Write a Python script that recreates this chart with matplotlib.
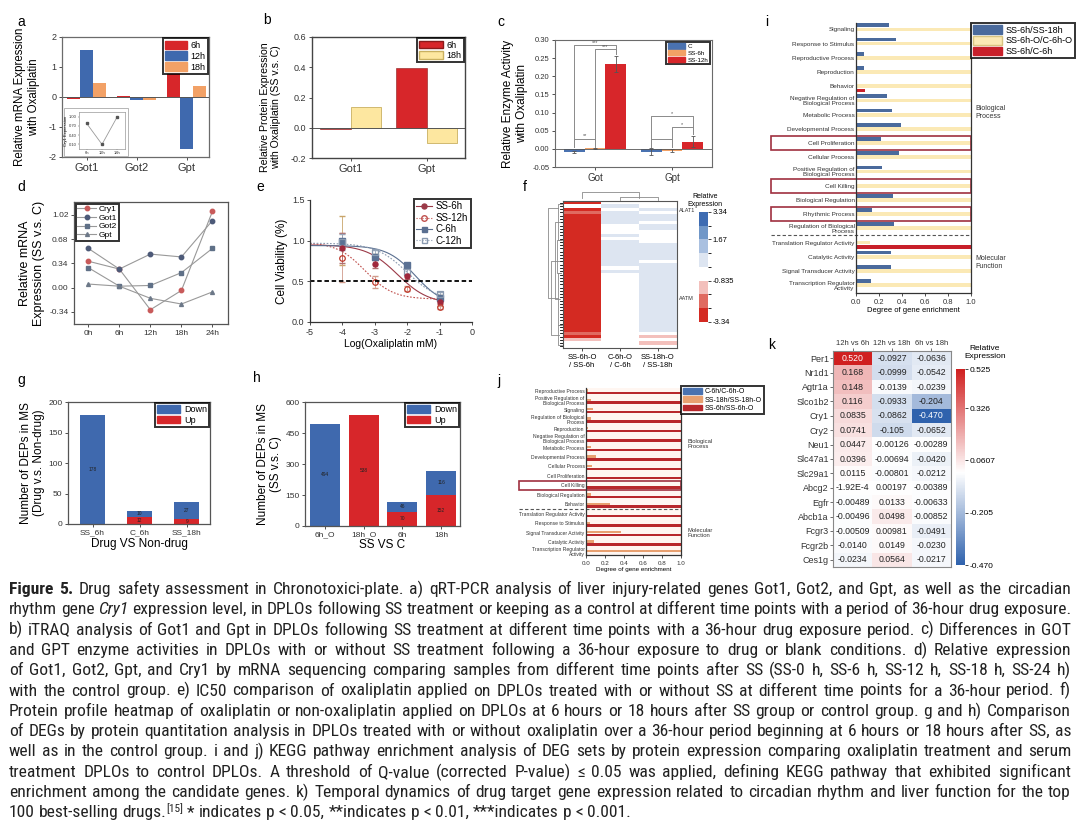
import numpy as np
import matplotlib
matplotlib.use('Agg')
import matplotlib.pyplot as plt
from matplotlib import font_manager
from matplotlib.colors import LinearSegmentedColormap, ListedColormap, BoundaryNorm, Normalize
from matplotlib.patches import Rectangle, Patch
from matplotlib.lines import Line2D
from matplotlib.transforms import blended_transform_factory

W, H = 1080, 824


def has_font(name):
    try:
        font_manager.findfont(font_manager.FontProperties(family=name), fallback_to_default=False)
        return True
    except Exception:
        return False


BASE = 'Liberation Sans' if has_font('Liberation Sans') else 'DejaVu Sans'
NARROW = next((f for f in ['Liberation Sans Narrow', 'Roboto Condensed', 'Open Sans Condensed', 'Lato', 'Roboto']
               if has_font(f)), BASE)
plt.rcParams['font.family'] = [BASE, 'DejaVu Sans']
plt.rcParams['axes.unicode_minus'] = False

# ---------------- DATA ----------------
# a
a_genes = ['Got1', 'Got2', 'Gpt']
a_6h = [-0.07, 0.02, 0.80]
a_12h = [1.55, -0.10, -1.72]
a_18h = [0.47, -0.10, 0.35]
a_inset_time = ['6h', '12h', '18h']
a_inset_cry1 = [0.78, 0.10, 1.00]
# b
b_genes = ['Got1', 'Gpt']
b_6h = [-0.005, 0.395]
b_18h = [0.14, -0.10]
# c
c_groups = ['Got', 'Gpt']
c_series = ['C', 'SS-6h', 'SS-12h']
c_C = [-0.008, -0.008]
c_C_err = [0.003, 0.010]
c_SS6 = [0.001, -0.005]
c_SS6_err = [0.001, 0.004]
c_SS12 = [0.233, 0.020]
c_SS12_err = [0.022, 0.015]
c_sig = [(0, 0, 2, 0.286, '***'), (0, 1, 2, 0.274, '***'), (0, 0, 1, 0.028, '**'),
         (1, 0, 2, 0.090, '*'), (1, 1, 2, 0.060, '*'), (1, 0, 1, 0.028, '')]
# d
d_times = ['0h', '6h', '12h', '18h', '24h']
d_cry1 = [0.37, 0.26, -0.31, -0.04, 1.07]
d_got1 = [0.55, 0.26, 0.47, 0.43, 0.94]
d_got2 = [0.28, 0.02, 0.03, 0.21, 0.55]
d_gpt = [0.05, 0.02, -0.15, -0.23, -0.06]
# e
e_logc = [-4, -3, -2, -1]
e_ss6 = [0.91, 0.71, 0.56, 0.25]
e_ss6_err = [0.19, 0.05, 0.03, 0.03]
e_ss12 = [0.79, 0.49, 0.41, 0.18]
e_ss12_err = [0.30, 0.07, 0.03, 0.02]
e_c6 = [1.00, 0.80, 0.70, 0.30]
e_c6_err = [0.30, 0.03, 0.03, 0.03]
e_c12 = [0.98, 0.86, 0.62, 0.35]
e_c12_err = [0.10, 0.03, 0.03, 0.02]
# 4PL fit parameters (top, bottom, logIC50, hill)
e_fit_ss6 = (0.95, 0.22, -2.3, 0.9)
e_fit_ss12 = (0.98, 0.28, -3.3, 1.0)
e_fit_c6 = (0.94, 0.20, -1.75, 1.0)
e_fit_c12 = (0.97, 0.25, -2.0, 0.9)
# f
f_cols = ['SS-6h-O\n/ SS-6h', 'C-6h-O\n/ C-6h', 'SS-18h-O\n/ SS-18h']
f_col1 = [-2.9, -0.3, -3.0, -2.2, -3.2, -3.3, -3.3, -3.3, -3.3, -3.3,
          -3.3, -3.3, -3.3, -3.3, -3.3, -3.3, -3.3, -3.3, -3.3, -3.3,
          -3.3, -3.3, -3.3, -3.3, -3.3, -3.3, -3.3, -3.3, -3.3, -3.3,
          -3.3, -3.3, -3.3, -3.3, -3.3, -3.3, -3.3, -3.3, -3.3, -3.3,
          -2.0, -3.0, -1.2, -0.5, -0.3]
f_col2 = [-0.3, 0.4, -0.3, 0.4, 0.4, 0.4, 0.4, -0.3, -0.3, -0.3,
          0.4, -0.3, 0.4, 0.4, 0.4, 0.4, 0.4, 0.4, 0.4, 0.4,
          -0.3, 0.4, -0.3, -0.3, -0.3, -0.3, -0.3, -0.3, -0.3, -0.3,
          -0.3, -0.3, -0.3, -0.3, -0.3, -0.3, -0.3, -0.3, -0.3, -0.3,
          -0.3, -0.3, -0.3, -0.3, -0.3]
f_col3 = [-0.3, -0.3, 0.4, -0.3, 0.4, 0.4, -0.3, 0.4, 0.4, -0.3,
          -0.3, -0.3, -0.3, 0.4, 0.4, 0.4, 0.4, 0.4, -0.3, 0.4,
          0.4, 0.4, 0.4, 0.4, 0.4, 0.4, 0.4, 0.4, 0.4, 0.4,
          0.4, 0.4, 0.4, 0.4, 0.4, 0.4, 0.4, 0.4, 0.4, 0.4,
          -0.3, -1.2, -0.3, -1.0, -0.3]
f_row_labels = [(2.8, 'ALAT1'), (29.7, 'AATM')]
f_row_dendro = [(1, 12, 0.30), (12, 22, 0.40), (22, 38, 0.35), (6.5, 30, 0.55),
                (38, 44, 0.30), (41, 18.25, 0.80), (2, 29.6, 1.0)]
f_col_dendro = [(1, 2, 0.45), (0, 1.5, 1.0)]
f_cbar_ticks = [3.34, 1.67, -0.835, -3.34]
# g
g_groups = ['SS_6h', 'C_6h', 'SS_18h']
g_up = [0, 12, 9]
g_down = [178, 10, 27]
# h
h_groups = ['6h_O', '18h_O', '6h', '18h']
h_up = [0, 538, 70, 152]
h_down = [494, 0, 46, 116]
# i
i_cats = ['Signaling', 'Response to Stimulus', 'Reproductive Process', 'Reproduction', 'Behavior',
          'Negative Regulation of\nBiological Process', 'Metabolic Process', 'Developmental Process',
          'Cell Proliferation', 'Cellular Process', 'Positive Regulation of\nBiological Process',
          'Cell Killing', 'Biological Regulation', 'Rhythmic Process', 'Regulation of Biological\nProcess',
          'Translation Regulator Activity', 'Catalytic Activity', 'Signal Transducer Activity',
          'Transcription Regulator\nActivity']
i_blue = [0.29, 0.35, 0.07, 0.07, 0.0, 0.27, 0.31, 0.39, 0.22, 0.37, 0.23, 0.0, 0.32, 0.14, 0.33,
          0.0, 0.30, 0.30, 0.13]
i_yellow = [1.0, 1.0, 1.0, 1.0, 1.0, 1.0, 1.0, 1.0, 1.0, 1.0, 1.0, 1.0, 1.0, 1.0, 1.0,
            0.12, 1.0, 1.0, 1.0]
i_red = [0.0, 0.0, 0.0, 0.0, 0.08, 0.0, 0.0, 0.0, 0.0, 0.0, 0.0, 0.0, 0.0, 0.0, 0.0,
         1.0, 0.0, 0.0, 0.0]
i_boxed = ['Cell Proliferation', 'Cell Killing', 'Rhythmic Process']
i_series = ['SS-6h/SS-18h', 'SS-6h-O/C-6h-O', 'SS-6h/C-6h']
# j
j_cats = ['Reproductive Process', 'Positive Regulation of\nBiological Process', 'Signaling',
          'Regulation of Biological\nProcess', 'Reproduction', 'Negative Regulation of\nBiological Process',
          'Metabolic Process', 'Developmental Process', 'Cellular Process', 'Cell Proliferation',
          'Cell Killing', 'Biological Regulation', 'Behavior', 'Translation Regulator Activity',
          'Response to Stimulus', 'Signal Transducer Activity', 'Catalytic Activity',
          'Transcription Regulator\nActivity']
j_blue = [0.0] * 18
j_orange = [0.02, 0.05, 0.07, 0.05, 0.02, 0.01, 0.05, 0.11, 0.06, 0.0, 0.0, 0.05, 0.25,
            0.0, 0.04, 0.37, 0.08, 1.0]
j_red = [1.0, 1.0, 1.0, 1.0, 1.0, 1.0, 1.0, 1.0, 1.0, 1.0, 1.0, 1.0, 1.0,
         1.0, 1.0, 1.0, 1.0, 0.0]
j_series = ['C-6h/C-6h-O', 'SS-18h/SS-18h-O', 'SS-6h/SS-6h-O']
# k
k_cols = ['12h vs 6h', '12h vs 18h', '6h vs 18h']
k_genes = ['Per1', 'Nr1d1', 'Agtr1a', 'Slco1b2', 'Cry1', 'Cry2', 'Neu1', 'Slc47a1', 'Slc29a1',
           'Abcg2', 'Egfr', 'Abcb1a', 'Fcgr3', 'Fcgr2b', 'Ces1g']
k_12v6 = [0.520, 0.168, 0.148, 0.116, 0.0835, 0.0741, 0.0447, 0.0396, 0.0115, -1.92e-4,
          -0.00489, -0.00496, -0.00509, -0.0140, -0.0234]
k_12v18 = [-0.0927, -0.0999, -0.0139, -0.0933, -0.0862, -0.105, -0.00126, -0.00694, -0.00801,
           0.00197, 0.0133, 0.0498, 0.00981, 0.0149, 0.0564]
k_6v18 = [-0.0636, -0.0542, -0.0239, -0.204, -0.470, -0.0652, -0.00289, -0.0420, -0.0212,
          -0.00389, -0.00633, -0.00852, -0.0491, -0.0230, -0.0217]
k_cbar_ticks = [0.525, 0.326, 0.0607, -0.205, -0.470]

# ---------------- STYLE ----------------
RED = '#d7262a'
BLUE = '#3f69ae'
ORANGE = '#f2a166'
YEL = '#fde7a0'
GRAYSP = '#6b6b6b'

fig = plt.figure(figsize=(W / 100, H / 100), dpi=100)
fig.patch.set_facecolor('white')


def ax_px(l, t, r, b, **kw):
    return fig.add_axes([l / W, 1 - b / H, (r - l) / W, (b - t) / H], **kw)


def letter(x, y, s, size=10):
    fig.text(x / W, 1 - y / H, s, fontsize=size, ha='left', va='center')


def style(ax, lw=0.9, color=GRAYSP, ls=6.5):
    for sp in ax.spines.values():
        sp.set_color(color)
        sp.set_linewidth(lw)
    ax.tick_params(colors='#333333', width=0.6, length=2.5, labelsize=ls, pad=1.5)


def box_legend(ax, handles, labels, fs=6.5, **kw):
    opts = dict(fontsize=fs, frameon=True, fancybox=False, edgecolor='black',
                borderpad=0.25, labelspacing=0.15, handletextpad=0.4, borderaxespad=0.15)
    opts.update(kw)
    leg = ax.legend(handles, labels, **opts)
    leg.get_frame().set_linewidth(1.4)
    return leg


# ---------------- a ----------------
letter(17, 22, 'a')
ax = ax_px(62, 37, 209, 157)
x = np.arange(len(a_genes))
w = 0.26
ax.bar(x - w, a_6h, w, color=RED)
ax.bar(x, a_12h, w, color=BLUE)
ax.bar(x + w, a_18h, w, color=ORANGE)
ax.axhline(0, color='#555555', lw=0.7)
ax.set_xlim(-0.5, 2.45)
ax.set_ylim(-2.0, 2.0)
ax.set_yticks([-2, -1, 0, 1, 2])
ax.set_xticks(x)
ax.set_xticklabels(a_genes)
style(ax)
ax.tick_params(axis='x', labelsize=8)
ax.set_ylabel('Relative mRNA Expression\nwith Oxaliplatin', fontsize=8.3, labelpad=6)
box_legend(ax, [Patch(color=RED), Patch(color=BLUE), Patch(color=ORANGE)], ['6h', '12h', '18h'],
           fs=6.5, loc='upper right', handlelength=2.4, handleheight=1.1)
# inset frame + inset axes
fig.patches.append(Rectangle((64 / W, 1 - 156 / H), 64 / W, 48 / H, transform=fig.transFigure,
                             facecolor='white', edgecolor='#aaaaaa', lw=0.6, zorder=5))
axi = ax_px(79, 112, 125, 149)
axi.set_zorder(6)
axi.plot(np.arange(3), a_inset_cry1, color='#9a9a9a', lw=0.6, marker='s', ms=1.6,
         mfc='#555555', mec='#555555')
axi.set_xlim(-0.5, 2.5)
axi.set_ylim(-0.05, 1.15)
axi.set_yticks([0.10, 0.40, 0.70, 1.00])
axi.set_yticklabels(['0.10', '0.40', '0.70', '1.00'])
axi.set_xticks(np.arange(3))
axi.set_xticklabels(a_inset_time)
style(axi, lw=0.5, color='#999999', ls=3)
axi.tick_params(length=1, width=0.3, pad=0.5)
axi.set_ylabel('Cry1 Expression', fontsize=3, labelpad=1)

# ---------------- b ----------------
letter(263, 20, 'b')
ax = ax_px(312, 37, 465, 158)
x = np.arange(len(b_genes))
w = 0.40
ax.bar(x - w / 2, b_6h, w, color=RED, edgecolor='#8a1a1a', lw=0.4)
ax.bar(x + w / 2, b_18h, w, color=YEL, edgecolor='#c9b060', lw=0.6)
ax.axhline(0, color='#555555', lw=0.7)
ax.set_xlim(-0.51, 1.5)
ax.set_ylim(-0.2, 0.6)
ax.set_yticks([-0.2, 0.0, 0.2, 0.4, 0.6])
ax.set_yticklabels(['-0.2', '0.0', '0.2', '0.4', '0.6'])
ax.set_xticks(x)
ax.set_xticklabels(b_genes)
style(ax, lw=1.0, color='#444444')
ax.tick_params(axis='x', labelsize=8)
ax.set_ylabel('Relative Protein Expression\nwith Oxaliplatin (SS v.s. C)', fontsize=7.6, labelpad=3)
ax.yaxis.set_label_coords(-0.2, 0.42)
box_legend(ax, [Patch(facecolor=RED, edgecolor='#8a1a1a'), Patch(facecolor=YEL, edgecolor='#c9b060')],
           ['6h', '18h'], fs=6.5, loc='upper right', handlelength=2.6, handleheight=0.9)

# ---------------- c ----------------
letter(497, 22, 'c')
ax = ax_px(555, 40, 712, 167)
x = np.arange(len(c_groups))
w = 0.27
vals = [c_C, c_SS6, c_SS12]
errs = [c_C_err, c_SS6_err, c_SS12_err]
cols = ['#4a72b0', ORANGE, RED]
for k in range(3):
    ax.bar(x + (k - 1) * w, vals[k], w, color=cols[k], yerr=errs[k],
           error_kw=dict(ecolor='#555555', elinewidth=0.6, capsize=1.2, capthick=0.6))
ax.axhline(0, color='#555555', lw=0.6)
for g, i0, i1, yb, lab in c_sig:
    xa = x[g] + (i0 - 1) * w
    xb = x[g] + (i1 - 1) * w
    ya = max(vals[i0][g] + errs[i0][g], 0) + 0.004
    yb_end = max(vals[i1][g] + errs[i1][g], 0) + 0.006
    ax.plot([xa, xa, xb, xb], [ya, yb, yb, yb_end], color='#8a8a8a', lw=0.7)
    if lab:
        ax.text((xa + xb) / 2, yb + 0.001, lab, ha='center', va='bottom', fontsize=4, color='#555555')
ax.set_xlim(-0.52, 1.52)
ax.set_ylim(-0.05, 0.30)
ax.set_yticks([-0.05, 0.0, 0.05, 0.10, 0.15, 0.20, 0.25, 0.30])
ax.set_yticklabels(['-0.05', '0.00', '0.05', '0.10', '0.15', '0.20', '0.25', '0.30'])
ax.set_xticks(x)
ax.set_xticklabels(c_groups)
style(ax, lw=0.8)
ax.tick_params(axis='y', labelsize=5.5)
ax.tick_params(axis='x', labelsize=7)
ax.set_ylabel('Relative Enzyme Activity\nwith Oxaliplatin', fontsize=8.5, labelpad=3)
box_legend(ax, [Patch(color='#4a72b0'), Patch(color=ORANGE), Patch(color=RED)], c_series,
           fs=4.5, loc='upper right', handlelength=2.8, handleheight=0.9, borderaxespad=0.3)

# ---------------- d ----------------
letter(17, 187, 'd')
ax = ax_px(74, 202, 228, 324)
x = np.arange(len(d_times))
ax.plot(x, d_cry1, color='#999999', lw=0.8, marker='o', ms=3.2, mfc='#c85a5a', mec='#c85a5a', label='Cry1')
ax.plot(x, d_got1, color='#999999', lw=0.8, marker='o', ms=3.2, mfc='#4d5a78', mec='#4d5a78', label='Got1')
ax.plot(x, d_got2, color='#999999', lw=0.8, marker='s', ms=2.8, mfc='#5f7087', mec='#5f7087', label='Got2')
ax.plot(x, d_gpt, color='#999999', lw=0.8, marker='^', ms=2.8, mfc='#6c7888', mec='#6c7888', label='Gpt')
ax.set_xlim(-0.46, 4.5)
ax.set_ylim(-0.51, 1.2)
ax.set_yticks([-0.34, 0.0, 0.34, 0.68, 1.02])
ax.set_yticklabels(['-0.34', '0.00', '0.34', '0.68', '1.02'])
ax.set_xticks(x)
ax.set_xticklabels(d_times)
style(ax, lw=0.9, color='#555555', ls=6)
ax.set_ylabel('Relative mRNA\nExpression (SS v.s. C)', fontsize=9, labelpad=3)
leg = ax.legend(loc='upper left', fontsize=6, frameon=True, fancybox=False, edgecolor='black',
                borderpad=0.2, labelspacing=0.1, handletextpad=0.4, handlelength=2.2, borderaxespad=0.2)
leg.get_frame().set_linewidth(1.4)

# ---------------- e ----------------
letter(256, 187, 'e')
ax = ax_px(310, 200, 472, 322)


def four_pl(xx, p):
    top, bot, c, h = p
    return bot + (top - bot) / (1 + 10 ** ((xx - c) * h))


xs = np.linspace(-5, -1, 200)
ax.plot(xs, four_pl(xs, e_fit_ss6), color='#9b3a48', lw=0.8)
ax.plot(xs, four_pl(xs, e_fit_ss12), color='#c0504d', lw=0.8, ls=(0, (1.5, 1.5)))
ax.plot(xs, four_pl(xs, e_fit_c6), color='#5a6f90', lw=0.8)
ax.plot(xs, four_pl(xs, e_fit_c12), color='#8a9ab0', lw=0.8, ls=(0, (1.5, 1.5)))
ax.errorbar(e_logc, e_c6, yerr=e_c6_err, fmt='none', ecolor='#c9a56a', elinewidth=0.6, capsize=2)
ax.errorbar(e_logc, e_ss12, yerr=e_ss12_err, fmt='none', ecolor='#d09a8a', elinewidth=0.6, capsize=2)
ax.errorbar(e_logc, e_ss6, yerr=e_ss6_err, fmt='none', ecolor='#b07070', elinewidth=0.6, capsize=2)
ax.errorbar(e_logc, e_c12, yerr=e_c12_err, fmt='none', ecolor='#9aa8bb', elinewidth=0.6, capsize=2)
ax.plot(e_logc, e_c6, 's', ms=4, mfc='#5a7194', mec='#5a7194')
ax.plot(e_logc, e_c12, 's', ms=4, mfc='none', mec='#8a9ab0', mew=0.9)
ax.plot(e_logc, e_ss6, 'o', ms=3.6, mfc='#a0283c', mec='#a0283c')
ax.plot(e_logc, e_ss12, 'o', ms=4, mfc='none', mec='#c0392b', mew=0.9)
ax.axhline(0.5, color='black', lw=1.3, ls=(0, (2.5, 1.5)))
ax.set_xlim(-5, 0)
ax.set_ylim(0, 1.5)
ax.set_xticks([-5, -4, -3, -2, -1, 0])
ax.set_yticks([0.0, 0.5, 1.0, 1.5])
ax.set_yticklabels(['0.0', '0.5', '1.0', '1.5'])
ax.set_xticklabels(['-5', '-4', '-3', '-2', '-1', '0'])
for sp in ['top', 'right']:
    ax.spines[sp].set_visible(False)
style(ax, lw=0.9, color='#333333', ls=6.5)
ax.set_ylabel('Cell Viability (%)', fontsize=8.5, labelpad=3)
ax.set_xlabel('Log(Oxaliplatin mM)', fontsize=7.5, labelpad=2)
hs = [Line2D([], [], color='#9b3a48', marker='o', ms=3.6, lw=0.8),
      Line2D([], [], color='#c0504d', marker='o', ms=4, mfc='none', lw=0.8, ls=':'),
      Line2D([], [], color='#5a6f90', marker='s', ms=3.6, lw=0.8),
      Line2D([], [], color='#8a9ab0', marker='s', ms=3.6, mfc='none', lw=0.8, ls=':')]
box_legend(ax, hs, ['SS-6h', 'SS-12h', 'C-6h', 'C-12h'], fs=7, loc='upper right',
           handlelength=1.6, bbox_to_anchor=(1.0, 1.02))

# ---------------- f ----------------
letter(523, 187, 'f')
fmat = np.array([f_col1, f_col2, f_col3]).T
f_colors = ['#d42a22', '#e06a60', '#f3c0bc', '#ffffff', '#dde5f1', '#a9c0e0', '#7097c8', '#3e6cb2']
fcmap = ListedColormap(f_colors)
fnorm = BoundaryNorm(np.linspace(-3.34, 3.34, 9), fcmap.N)
axf = ax_px(563, 201, 677, 348)
axf.pcolormesh(np.arange(4), np.arange(len(f_col1) + 1), fmat, cmap=fcmap, norm=fnorm)
axf.set_xlim(0, 3)
axf.set_ylim(len(f_col1), 0)
axf.set_yticks([])
axf.set_xticks(np.arange(3) + 0.5)
axf.set_xticklabels(f_cols, fontsize=5.5)
axf.tick_params(axis='x', length=2, width=0.5, pad=2)
for sp in axf.spines.values():
    sp.set_color('#555555')
    sp.set_linewidth(0.8)
for r, s in f_row_labels:
    axf.text(3.04, r, s, fontsize=4, va='center', ha='left', color='#333333')
# row dendrogram
axd = ax_px(547, 201, 563, 348)
axd.set_ylim(len(f_col1), 0)
axd.set_xlim(1.05, 0)
axd.axis('off')
for rr in range(len(f_col1)):
    axd.plot([0, 0.18], [rr + 0.5, rr + 0.5], color='black', lw=0.6)
for ya, yb, hh in f_row_dendro:
    axd.plot([hh * 0.3, hh, hh, hh * 0.3], [ya, ya, yb, yb], color='#8a8a8a', lw=0.6)
# column dendrogram
axc = ax_px(563, 192, 677, 201)
axc.set_xlim(0, 3)
axc.set_ylim(0, 1.05)
axc.axis('off')
for xa, xb, hh in f_col_dendro:
    axc.plot([xa + 0.5, xa + 0.5, xb + 0.5, xb + 0.5], [hh * 0.35, hh, hh, hh * 0.35], color='#8a8a8a', lw=0.6)
caxf = ax_px(699, 212, 708, 322)
cb = fig.colorbar(plt.cm.ScalarMappable(norm=fnorm, cmap=fcmap), cax=caxf, ticks=f_cbar_ticks)
cb.ax.set_yticklabels(['3.34', '1.67', '-0.835', '-3.34'])
cb.ax.tick_params(labelsize=5.5, length=2, width=0.5, pad=1)
cb.outline.set_visible(False)
fig.text(705 / W, 1 - 200 / H, 'Relative\nExpression', fontsize=5, ha='center', va='center')

# ---------------- g ----------------
letter(17, 380, 'g')
ax = ax_px(68, 402, 210, 524)
x = np.arange(len(g_groups))
w = 0.53
ax.bar(x, g_up, w, color=RED)
ax.bar(x, g_down, w, bottom=g_up, color=BLUE)
for i in range(len(g_groups)):
    if g_up[i] > 0:
        ax.text(x[i], g_up[i] / 2, str(g_up[i]), ha='center', va='center', fontsize=3.5, color='#222222')
    if g_down[i] > 0:
        ax.text(x[i], g_up[i] + g_down[i] / 2, str(g_down[i]), ha='center', va='center', fontsize=3.5,
                color='#222222')
ax.set_xlim(-0.52, 2.49)
ax.set_ylim(0, 200)
ax.set_yticks([0, 50, 100, 150, 200])
ax.set_xticks(x)
ax.set_xticklabels(g_groups)
style(ax, lw=0.9, color='#555555', ls=6)
ax.set_ylabel('Number of DEPs in MS\n(Drug v.s. Non-drug)', fontsize=8.5, labelpad=2)
ax.set_xlabel('Drug VS Non-drug', fontsize=8.5, labelpad=1)
box_legend(ax, [Patch(color=BLUE), Patch(color=RED)], ['Down', 'Up'], fs=6.5, loc='upper right',
           handlelength=2.6, handleheight=0.9, borderaxespad=0.1)

# ---------------- h ----------------
letter(253, 378, 'h')
ax = ax_px(305, 402, 460, 526)
x = np.arange(len(h_groups))
w = 0.78
ax.bar(x, h_up, w, color=RED)
ax.bar(x, h_down, w, bottom=h_up, color=BLUE)
for i in range(len(h_groups)):
    if h_up[i] > 0:
        ax.text(x[i], h_up[i] / 2, str(h_up[i]), ha='center', va='center', fontsize=3.5, color='#222222')
    if h_down[i] > 0:
        ax.text(x[i], h_up[i] + h_down[i] / 2, str(h_down[i]), ha='center', va='center', fontsize=3.5,
                color='#222222')
ax.set_xlim(-0.52, 3.49)
ax.set_ylim(0, 600)
ax.set_yticks([0, 150, 300, 450, 600])
ax.set_xticks(x)
ax.set_xticklabels(h_groups)
style(ax, lw=0.9, color='#555555', ls=6)
ax.set_ylabel('Number of DEPs in MS\n(SS v.s. C)', fontsize=8.5, labelpad=2)
ax.set_xlabel('SS VS C', fontsize=8.5, labelpad=0)
box_legend(ax, [Patch(color=BLUE), Patch(color=RED)], ['Down', 'Up'], fs=6.5, loc='upper right',
           handlelength=2.6, handleheight=0.9, borderaxespad=0.1)


# ---------------- i ----------------
def enrich_panel(ax, cats, series_vals, series_cols, offsets, bh, boxed, sep, left_px, right_px, fs):
    y = np.arange(len(cats))
    for vals, col, off in zip(series_vals, series_cols, offsets):
        ax.barh(y + off, vals, bh, color=col, edgecolor='none')
    ax.set_yticks(y)
    ax.set_yticklabels(cats, fontsize=fs, linespacing=1.0)
    ax.set_xlim(0, 1.0)
    ax.set_xticks([0, 0.2, 0.4, 0.6, 0.8, 1.0])
    ax.set_xticklabels(['0.0', '0.2', '0.4', '0.6', '0.8', '1.0'])
    trans = blended_transform_factory(ax.transAxes, ax.transData)
    xl = (left_px[0] - left_px[1]) / (right_px - left_px[1])
    for name in boxed:
        k = cats.index(name)
        ax.add_patch(Rectangle((xl, k - 0.5), 1 - xl, 1.0, transform=trans, fill=False,
                               edgecolor='#a03040', lw=1.2, clip_on=False))
    ax.plot([xl, 1.0], [sep, sep], transform=trans, color='#555555', lw=0.8, ls=(0, (3, 2)), clip_on=False)


letter(765, 22, 'i')
ax = ax_px(856, 23, 971, 293)
enrich_panel(ax, i_cats, [i_blue, i_yellow, i_red], ['#4a6a9c', '#fbe9b5', '#c8202a'],
             [-0.29, 0.0, 0.29], 0.26, i_boxed, 14.5, (771, 856), 971, 4.6)
ax.set_ylim(18.55, -0.45)
style(ax, lw=0.9, color='#333333', ls=5.5)
ax.tick_params(axis='y', length=0, labelsize=4.6, pad=1)
ax.spines['top'].set_visible(False)
ax.set_xlabel('Degree of gene enrichment', fontsize=5.5, labelpad=1)
box_legend(ax, [Patch(color='#4a6a9c'), Patch(facecolor='#fbe9b5', edgecolor='#d8c480'), Patch(color='#c8202a')],
           i_series, fs=6.5, loc='upper left', bbox_to_anchor=(1.0, 1.0), handlelength=3.2,
           handleheight=1.1, borderaxespad=0.0)
fig.text(975 / W, 1 - 112 / H, 'Biological\nProcess', fontsize=5, ha='left', va='center', color='#333333')
fig.text(975 / W, 1 - 262 / H, 'Molecular\nFunction', fontsize=5, ha='left', va='center', color='#333333')

# ---------------- j ----------------
letter(497, 381, 'j')
ax = ax_px(586, 388, 681, 555)
ax.set_facecolor('#fff6f1')
enrich_panel(ax, j_cats, [j_blue, j_orange, j_red], ['#4a72b0', '#e8a070', '#b8282c'],
             [-0.35, -0.05, 0.25], 0.26, ['Cell Killing'], 12.5, (519, 586), 681, 3.6)
ax.set_ylim(17.36, -0.29)
style(ax, lw=0.9, color='#333333', ls=4.5)
ax.tick_params(axis='y', length=0, labelsize=3.6, pad=1)
ax.spines['top'].set_visible(False)
ax.set_xlabel('Degree of gene enrichment', fontsize=4.5, labelpad=1)
box_legend(ax, [Patch(color='#4a72b0'), Patch(color='#e8a070'), Patch(color='#b8282c')],
           j_series, fs=5, loc='upper left', bbox_to_anchor=(1.0, 1.01), handlelength=2.8,
           handleheight=0.9, borderaxespad=0.0)
fig.text(688 / W, 1 - 444 / H, 'Biological\nProcess', fontsize=4.2, ha='left', va='center', color='#333333')
fig.text(688 / W, 1 - 533 / H, 'Molecular\nFunction', fontsize=4.2, ha='left', va='center', color='#333333')

# ---------------- k ----------------
letter(768, 345, 'k')
kmat = np.array([k_12v6, k_12v18, k_6v18]).T
vmin, vmax = -0.470, 0.525
wpos = (0 - vmin) / (vmax - vmin)
kcmap = LinearSegmentedColormap.from_list('k', [(0, '#2f62ad'), (wpos, '#ffffff'), (1, '#d01f1f')])
knorm = Normalize(vmin, vmax)
axk = ax_px(833, 351, 951, 567)
axk.imshow(kmat, cmap=kcmap, norm=knorm, aspect='auto', interpolation='nearest')


def kfmt(v):
    if abs(v) < 1e-3:
        m, e = f'{v:.2E}'.split('E')
        return f'{m}E{int(e)}'
    d = 2 - int(np.floor(np.log10(abs(v))))
    return f'{v:.{d}f}'


for r in range(kmat.shape[0]):
    for c in range(kmat.shape[1]):
        v = kmat[r, c]
        tc = 'white' if abs(v) > 0.4 else '#222222'
        axk.text(c, r, kfmt(v), ha='center', va='center', fontsize=6.3, color=tc)
axk.set_xticks(np.arange(3))
axk.set_xticklabels(k_cols, fontsize=5.5)
axk.xaxis.tick_top()
axk.set_yticks(np.arange(len(k_genes)))
axk.set_yticklabels(k_genes, fontsize=6.5)
axk.tick_params(axis='both', length=2, width=0.5, pad=1, colors='#333333')
for sp in axk.spines.values():
    sp.set_color('#888888')
    sp.set_linewidth(0.8)
caxk = ax_px(956, 369, 965, 565)
cbk = fig.colorbar(plt.cm.ScalarMappable(norm=knorm, cmap=kcmap), cax=caxk, ticks=k_cbar_ticks)
cbk.ax.set_yticklabels(['0.525', '0.326', '0.0607', '-0.205', '-0.470'])
cbk.ax.tick_params(labelsize=6, length=2, width=0.5, pad=1)
cbk.outline.set_visible(False)
fig.text(985 / W, 1 - 353 / H, 'Relative\nExpression', fontsize=6, ha='center', va='center')

# ---------------- caption ----------------
cap_lines = [
    [('Figure 5.', 'b'), (' Drug safety assessment in Chronotoxici-plate. a) qRT-PCR analysis of liver injury-related genes Got1, Got2, and Gpt, as well as the circadian', 'n')],
    [('rhythm gene ', 'n'), ('Cry1', 'i'), (' expression level, in DPLOs following SS treatment or keeping as a control at different time points with a period of 36-hour drug exposure.', 'n')],
    [('b) iTRAQ analysis of Got1 and Gpt in DPLOs following SS treatment at different time points with a 36-hour drug exposure period. c) Differences in GOT', 'n')],
    [('and GPT enzyme activities in DPLOs with or without SS treatment following a 36-hour exposure to drug or blank conditions. d) Relative expression', 'n')],
    [('of Got1, Got2, Gpt, and Cry1 by mRNA sequencing comparing samples from different time points after SS (SS-0 h, SS-6 h, SS-12 h, SS-18 h, SS-24 h)', 'n')],
    [('with the control group. e) IC50 comparison of oxaliplatin applied on DPLOs treated with or without SS at different time points for a 36-hour period. f)', 'n')],
    [('Protein profile heatmap of oxaliplatin or non-oxaliplatin applied on DPLOs at 6 hours or 18 hours after SS group or control group. g and h) Comparison', 'n')],
    [('of DEGs by protein quantitation analysis in DPLOs treated with or without oxaliplatin over a 36-hour period beginning at 6 hours or 18 hours after SS, as', 'n')],
    [('well as in the control group. i and j) KEGG pathway enrichment analysis of DEG sets by protein expression comparing oxaliplatin treatment and serum', 'n')],
    [('treatment DPLOs to control DPLOs. A threshold of Q-value (corrected P-value) \u2264 0.05 was applied, defining KEGG pathway that exhibited significant', 'n')],
    [('enrichment among the candidate genes. k) Temporal dynamics of drug target gene expression related to circadian rhythm and liver function for the top', 'n')],
    [('100 best-selling drugs.', 'n'), ('[15]', 's'), (' * indicates p < 0.05, **indicates p < 0.01, ***indicates p < 0.001.', 'n')],
]
renderer = fig.canvas.get_renderer()


def seg_kw(st, size):
    kw = dict(fontsize=size, family=[NARROW, 'DejaVu Sans'], color='#222222')
    if st == 'b':
        kw['fontweight'] = 'bold'
    if st == 'i':
        kw['fontstyle'] = 'italic'
    if st == 's':
        kw['fontsize'] = size * 0.65
    return kw


def seg_width(txt, st, size):
    t1 = fig.text(0, 0, txt + '|', **seg_kw(st, size))
    t2 = fig.text(0, 0, '|', **seg_kw(st, size))
    wdt = t1.get_window_extent(renderer).width - t2.get_window_extent(renderer).width
    t1.remove()
    t2.remove()
    return wdt


def to_words(line):
    groups = [[]]
    for txt, st in line:
        parts = txt.split(' ')
        for pi, p in enumerate(parts):
            if pi > 0:
                groups.append([])
            if p:
                groups[-1].append((p, st))
    return [g for g in groups if g]


base_size = 10.0
w_nat = max(sum(seg_width(t, s, base_size) for t, s in line) for line in cap_lines[:-1])
x0, x1, y0, dy = 9.0, 1071.0, 594.0, 20.3
cap_size = base_size * (x1 - x0 - 4) / w_nat
space_w = seg_width(' ', 'n', cap_size)
for li, line in enumerate(cap_lines):
    yy = y0 + li * dy
    words = to_words(line)
    widths = [[seg_width(t, s, cap_size) for t, s in g] for g in words]
    total = sum(sum(wl) for wl in widths)
    if li < len(cap_lines) - 1 and len(words) > 1:
        gap = (x1 - x0 - total) / (len(words) - 1)
    else:
        gap = space_w
    xx = x0
    for g, wl in zip(words, widths):
        for (t, s), wdt in zip(g, wl):
            ys = yy - 5 if s == 's' else yy
            fig.text(xx / W, 1 - ys / H, t, va='baseline', ha='left', **seg_kw(s, cap_size))
            xx += wdt
        xx += gap

fig.savefig('out.png', dpi=100, facecolor='white')
